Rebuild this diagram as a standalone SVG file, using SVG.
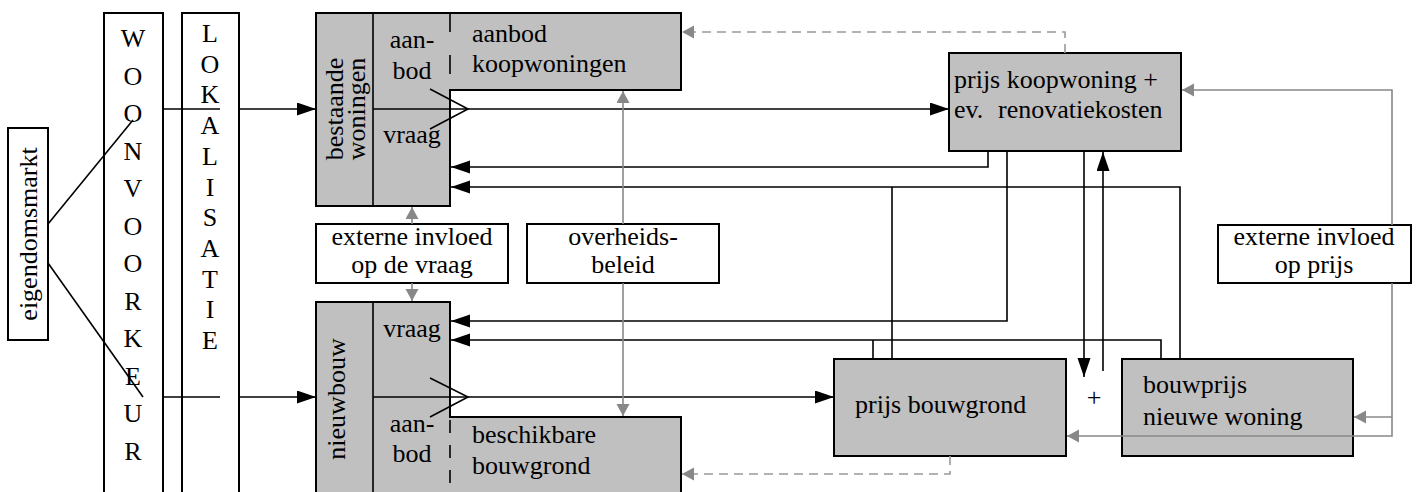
<svg xmlns="http://www.w3.org/2000/svg" width="1417" height="492" viewBox="0 0 1417 492">
<style>
text{font-family:"Liberation Serif","Times New Roman",serif;font-size:26px;fill:#000}
.m{text-anchor:middle}
.box{fill:#fff;stroke:#000;stroke-width:2}
.gbox{fill:#c0c0c0;stroke:#000;stroke-width:2}
.ln{fill:none;stroke:#000;stroke-width:1.6}
.gl{fill:none;stroke:#888;stroke-width:1.6}
.dash{fill:none;stroke:#999;stroke-width:1.6;stroke-dasharray:9 6}
.inner{fill:none;stroke:#000;stroke-width:1.6}
.arr{marker-end:url(#ab)}
.garr{marker-end:url(#ag)}
</style>
<defs>
<marker id="ab" markerUnits="userSpaceOnUse" viewBox="0 0 20 14" markerWidth="20" markerHeight="14" refX="19" refY="6.5" orient="auto"><path d="M0,0 L19,6.5 L0,13 z" fill="#000"/></marker>
<marker id="ag" markerUnits="userSpaceOnUse" viewBox="0 0 13 14" markerWidth="13" markerHeight="14" refX="12" refY="6.5" orient="auto"><path d="M0,0 L12,6.5 L0,13 z" fill="#888"/></marker>
</defs>
<rect width="1417" height="492" fill="#fff"/>

<g id="eigendomsmarkt">
<rect class="box" x="8" y="128" width="40" height="212"/>
<text class="m" transform="translate(37,234) rotate(-90)">eigendomsmarkt</text>
</g>

<g id="woonvoorkeur">
<rect class="box" x="104" y="13" width="59" height="500"/>
<text class="m" x="133" y="47">W</text>
<text class="m" x="133" y="84.5">O</text>
<text class="m" x="133" y="122">O</text>
<text class="m" x="133" y="159.5">N</text>
<text class="m" x="133" y="197">V</text>
<text class="m" x="133" y="234.5">O</text>
<text class="m" x="133" y="272">O</text>
<text class="m" x="133" y="309.5">R</text>
<text class="m" x="133" y="347">K</text>
<text class="m" x="133" y="384.5">E</text>
<text class="m" x="133" y="422">U</text>
<text class="m" x="133" y="459.5">R</text>
</g>

<g id="lokalisatie">
<rect class="box" x="182" y="13" width="57" height="500"/>
<text class="m" x="210" y="42">L</text>
<text class="m" x="210" y="72.7">O</text>
<text class="m" x="210" y="103.4">K</text>
<text class="m" x="210" y="134.1">A</text>
<text class="m" x="210" y="164.8">L</text>
<text class="m" x="210" y="195.5">I</text>
<text class="m" x="210" y="226.2">S</text>
<text class="m" x="210" y="256.9">A</text>
<text class="m" x="210" y="287.6">T</text>
<text class="m" x="210" y="318.3">I</text>
<text class="m" x="210" y="349">E</text>
</g>

<g id="bestaande-woningen">
<path class="gbox" d="M316,13 H681 V90 H450 V206 H316 Z"/>
<line class="inner" x1="373" y1="13" x2="373" y2="206"/>
<line class="inner" x1="450" y1="13" x2="450" y2="90" stroke-dasharray="19 23"/>
<text class="m" transform="translate(343,109) rotate(-90)">bestaande</text>
<text class="m" transform="translate(365,109) rotate(-90)">woningen</text>
<text class="m" x="412" y="48">aan-</text>
<text class="m" x="412" y="79">bod</text>
<text class="m" x="412" y="143">vraag</text>
<text x="472" y="42">aanbod</text>
<text x="472" y="72">koopwoningen</text>
</g>

<g id="nieuwbouw">
<path class="gbox" d="M316,302 H450 V417 H681 V500 H316 Z"/>
<line class="inner" x1="373" y1="302" x2="373" y2="500"/>
<line class="inner" x1="450" y1="420" x2="450" y2="500" stroke-dasharray="13 12"/>
<text class="m" transform="translate(345,399) rotate(-90)">nieuwbouw</text>
<text class="m" x="412" y="337">vraag</text>
<text class="m" x="412" y="432">aan-</text>
<text class="m" x="412" y="462">bod</text>
<text x="472" y="443">beschikbare</text>
<text x="472" y="474">bouwgrond</text>
</g>

<g id="externe-invloed-vraag">
<rect class="box" x="316" y="224" width="192" height="59"/>
<text class="m" x="412" y="245">externe invloed</text>
<text class="m" x="412" y="273">op de vraag</text>
</g>

<g id="overheidsbeleid">
<rect class="box" x="527" y="224" width="192" height="59"/>
<text class="m" x="623" y="245">overheids-</text>
<text class="m" x="623" y="273">beleid</text>
</g>

<g id="prijs-koopwoning">
<rect class="gbox" x="949" y="53" width="232" height="98"/>
<text x="954" y="88">prijs koopwoning +</text>
<text y="118"><tspan x="954">ev.</tspan><tspan x="998">renovatiekosten</tspan></text>
</g>

<g id="externe-invloed-prijs">
<rect class="box" x="1218" y="225" width="193" height="58"/>
<text class="m" x="1314" y="245">externe invloed</text>
<text class="m" x="1314" y="273">op prijs</text>
</g>

<g id="prijs-bouwgrond">
<rect class="gbox" x="834" y="359" width="232" height="97"/>
<text x="855" y="413">prijs bouwgrond</text>
</g>

<g id="bouwprijs">
<rect class="gbox" x="1122" y="359" width="231" height="97"/>
<text x="1143" y="393">bouwprijs</text>
<text x="1143" y="425">nieuwe woning</text>
</g>

<g id="plus">
<text x="1094" y="406" text-anchor="middle" font-size="20" fill="#000">+</text>
</g>

<g id="connectors">
<line class="ln" x1="48" y1="224" x2="133" y2="120"/>
<line class="ln" x1="48" y1="263" x2="143" y2="397"/>
<line class="ln" x1="163" y1="109" x2="220" y2="109"/>
<line class="ln arr" x1="239" y1="109" x2="316" y2="109"/>
<line class="ln" x1="163" y1="397" x2="220" y2="397"/>
<line class="ln arr" x1="239" y1="397" x2="316" y2="397"/>

<line class="ln arr" x1="373" y1="109" x2="949" y2="109"/>
<polyline class="ln" points="430,89 468,109 430,129"/>
<line class="ln arr" x1="373" y1="397" x2="834" y2="397"/>
<polyline class="ln" points="430,378 468,397 430,417"/>

<path class="ln arr" d="M988,151 V167 H451"/>
<path class="ln arr" d="M1180,359 V187 H451"/>
<path class="ln" d="M892,359 V187"/>
<path class="ln arr" d="M1007,151 V321 H451"/>
<path class="ln arr" d="M1161,359 V340 H451"/>
<path class="ln" d="M873,359 V340"/>
<path class="ln arr" d="M1084,151 V377"/>
<path class="ln arr" d="M1103,371 V152"/>

<path class="gl garr" d="M412,224 V207"/>
<path class="gl garr" d="M412,283 V301"/>
<path class="gl garr" d="M623,224 V91"/>
<path class="gl garr" d="M623,283 V416"/>
<path class="dash garr" d="M1065,53 V32 H682"/>
<path class="dash garr" d="M950,456 V474 H682"/>
<path class="gl garr" d="M1392,225 V90 H1182"/>
<path class="gl garr" d="M1392,283 V436 H1067"/>
<path class="gl garr" d="M1392,417 H1354"/>
</g>
</svg>
